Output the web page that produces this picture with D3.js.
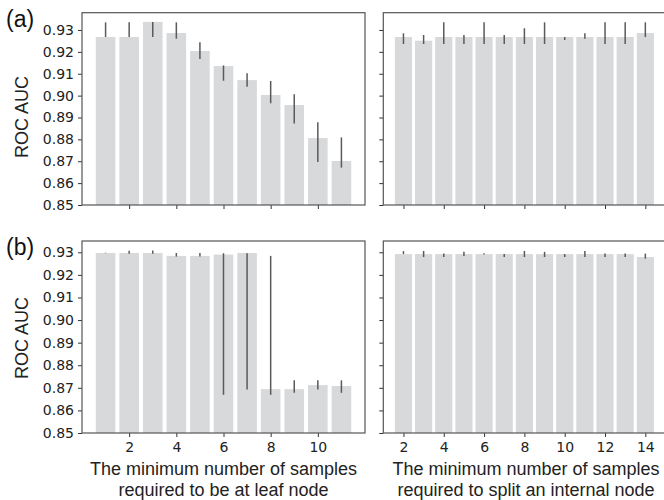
<!DOCTYPE html>
<html>
<head>
<meta charset="utf-8">
<script src="https://cdn.jsdelivr.net/npm/d3@7/dist/d3.min.js"></script>
<style>
  html, body { margin: 0; padding: 0; background: #fff; }
  svg { display: block; }
</style>
</head>
<body>
<svg id="chart" width="664" height="500"></svg>
<script>
// ---- data ----
const leafSamples = [1, 2, 3, 4, 5, 6, 7, 8, 9, 10, 11];
const splitSamples = [2, 3, 4, 5, 6, 7, 8, 9, 10, 11, 12, 13, 14];

// (a) leaf
const aLeafMean = [0.9268, 0.9268, 0.9337, 0.9286, 0.9204, 0.9135, 0.9071, 0.9003, 0.8957, 0.8806, 0.8701];
const aLeafLo   = [0.9268, 0.9268, 0.9268, 0.9260, 0.9167, 0.9068, 0.9041, 0.8965, 0.8872, 0.8697, 0.8671];
const aLeafHi   = [0.9335, 0.9335, 0.9337, 0.9335, 0.9244, 0.9138, 0.9102, 0.9067, 0.9006, 0.8878, 0.8809];
// (a) split
const aSplitMean = [0.9268, 0.9251, 0.9268, 0.9268, 0.9268, 0.9268, 0.9268, 0.9268, 0.9268, 0.9268, 0.9268, 0.9268, 0.9286];
const aSplitLo   = [0.9236, 0.9236, 0.9236, 0.9236, 0.9236, 0.9236, 0.9236, 0.9236, 0.9254, 0.9260, 0.9236, 0.9236, 0.9268];
const aSplitHi   = [0.9285, 0.9277, 0.9335, 0.9277, 0.9335, 0.9277, 0.9308, 0.9335, 0.9268, 0.9285, 0.9335, 0.9335, 0.9335];
// (b) leaf
const bLeafMean = [0.9297, 0.9297, 0.9297, 0.9284, 0.9284, 0.9290, 0.9297, 0.8694, 0.8694, 0.8712, 0.8708];
const bLeafLo   = [0.9296, 0.9294, 0.9294, 0.9281, 0.9281, 0.8669, 0.8693, 0.8669, 0.8678, 0.8693, 0.8678];
const bLeafHi   = [0.9298, 0.9307, 0.9308, 0.9297, 0.9297, 0.9296, 0.9296, 0.9284, 0.8733, 0.8733, 0.8733];
// (b) split
const bSplitMean = [0.9292, 0.9292, 0.9292, 0.9292, 0.9292, 0.9292, 0.9292, 0.9292, 0.9292, 0.9292, 0.9292, 0.9292, 0.9279];
const bSplitLo   = [0.9292, 0.9279, 0.9279, 0.9284, 0.9290, 0.9279, 0.9279, 0.9279, 0.9279, 0.9279, 0.9279, 0.9279, 0.9272];
const bSplitHi   = [0.9305, 0.9306, 0.9295, 0.9302, 0.9296, 0.9292, 0.9306, 0.9302, 0.9292, 0.9306, 0.9295, 0.9295, 0.9294];

const yTicks = [0.85, 0.86, 0.87, 0.88, 0.89, 0.90, 0.91, 0.92, 0.93];
const leafTicks = [2, 4, 6, 8, 10];
const splitTicks = [2, 4, 6, 8, 10, 12, 14];
const panelLabels = ["(a)", "(b)"];
const yLabel = "ROC AUC";
const xLabelLeaf = ["The minimum number of samples", "required to be at leaf node"];
const xLabelSplit = ["The minimum number of samples", "required to split an internal node"];

// ---- layout ----
const svg = d3.select("#chart");
const BAR = "#d8d9db", ERR = "#5a5a5a", FRAME = "#555";
const TICKFONT = "DejaVu Sans, sans-serif";
const LABFONT = "Liberation Sans, Arial, sans-serif";

const rows = [
  { top: 12.7, bottom: 205, ymax: 0.9379, label: panelLabels[0], labelY: 27, ylabY: 117,
    leaf: [aLeafMean, aLeafLo, aLeafHi], split: [aSplitMean, aSplitLo, aSplitHi] },
  { top: 241, bottom: 433, ymax: 0.935, label: panelLabels[1], labelY: 255, ylabY: 338,
    leaf: [bLeafMean, bLeafLo, bLeafHi], split: [bSplitMean, bSplitLo, bSplitHi] }
];
const cols = [
  { left: 82, right: 365, domain: [0, 12], cats: leafSamples, ticks: leafTicks, key: "leaf", showY: true, bw: 0.83 },
  { left: 383.3, right: 665.5, domain: [1, 15], cats: splitSamples, ticks: splitTicks, key: "split", showY: false, bw: 0.85 }
];

rows.forEach((row, ri) => {
  const y = d3.scaleLinear().domain([0.85, row.ymax]).range([row.bottom, row.top]);
  cols.forEach((col, ci) => {
    const x = d3.scaleLinear().domain(col.domain).range([col.left, col.right]);
    const [mean, lo, hi] = row[col.key];
    const g = svg.append("g");
    const step = x(col.cats[1]) - x(col.cats[0]);
    const bw = step * col.bw;

    g.selectAll("rect.bar").data(col.cats).join("rect")
      .attr("class", "bar")
      .attr("x", (d) => x(d) - bw / 2)
      .attr("width", bw)
      .attr("y", (d, i) => y(mean[i]))
      .attr("height", (d, i) => y(0.85) - y(mean[i]))
      .attr("fill", BAR);

    g.selectAll("line.err").data(col.cats).join("line")
      .attr("class", "err")
      .attr("x1", (d) => x(d)).attr("x2", (d) => x(d))
      .attr("y1", (d, i) => y(lo[i])).attr("y2", (d, i) => y(hi[i]))
      .attr("stroke", ERR).attr("stroke-width", 1.5);

    // axes
    const yAxis = d3.axisLeft(y).tickValues(yTicks).tickSize(4).tickPadding(4)
      .tickFormat(col.showY ? d3.format(".2f") : () => "");
    const ya = g.append("g").attr("transform", `translate(${col.left},0)`).call(yAxis);
    ya.select(".domain").remove();
    ya.selectAll("line").attr("stroke", "#333");
    ya.selectAll("text").attr("font-family", TICKFONT).attr("font-size", 14).attr("fill", "#222");

    const xAxis = d3.axisBottom(x).tickValues(col.ticks).tickSize(4).tickPadding(5)
      .tickFormat(ri === 1 ? d3.format("d") : () => "");
    const xa = g.append("g").attr("transform", `translate(0,${row.bottom})`).call(xAxis);
    xa.select(".domain").remove();
    xa.selectAll("line").attr("stroke", "#333");
    xa.selectAll("text").attr("font-family", TICKFONT).attr("font-size", 14).attr("fill", "#222");

    // frame
    g.append("rect")
      .attr("x", col.left).attr("y", row.top)
      .attr("width", col.right - col.left).attr("height", row.bottom - row.top)
      .attr("fill", "none").attr("stroke", FRAME).attr("stroke-width", 1.2);
  });

  svg.append("text").attr("x", 6).attr("y", row.labelY)
    .attr("font-family", LABFONT).attr("font-size", 23).attr("fill", "#111")
    .text(row.label);

  svg.append("text")
    .attr("transform", `translate(28,${row.ylabY}) rotate(-90)`)
    .attr("text-anchor", "middle")
    .attr("font-family", LABFONT).attr("font-size", 18).attr("fill", "#222")
    .text(yLabel);
});

[[223.5, xLabelLeaf], [526, xLabelSplit]].forEach(([cx, lines]) => {
  lines.forEach((t, i) => {
    svg.append("text").attr("x", cx).attr("y", 475 + i * 21)
      .attr("text-anchor", "middle")
      .attr("font-family", LABFONT).attr("font-size", 18).attr("fill", "#222")
      .text(t);
  });
});
</script>
</body>
</html>
